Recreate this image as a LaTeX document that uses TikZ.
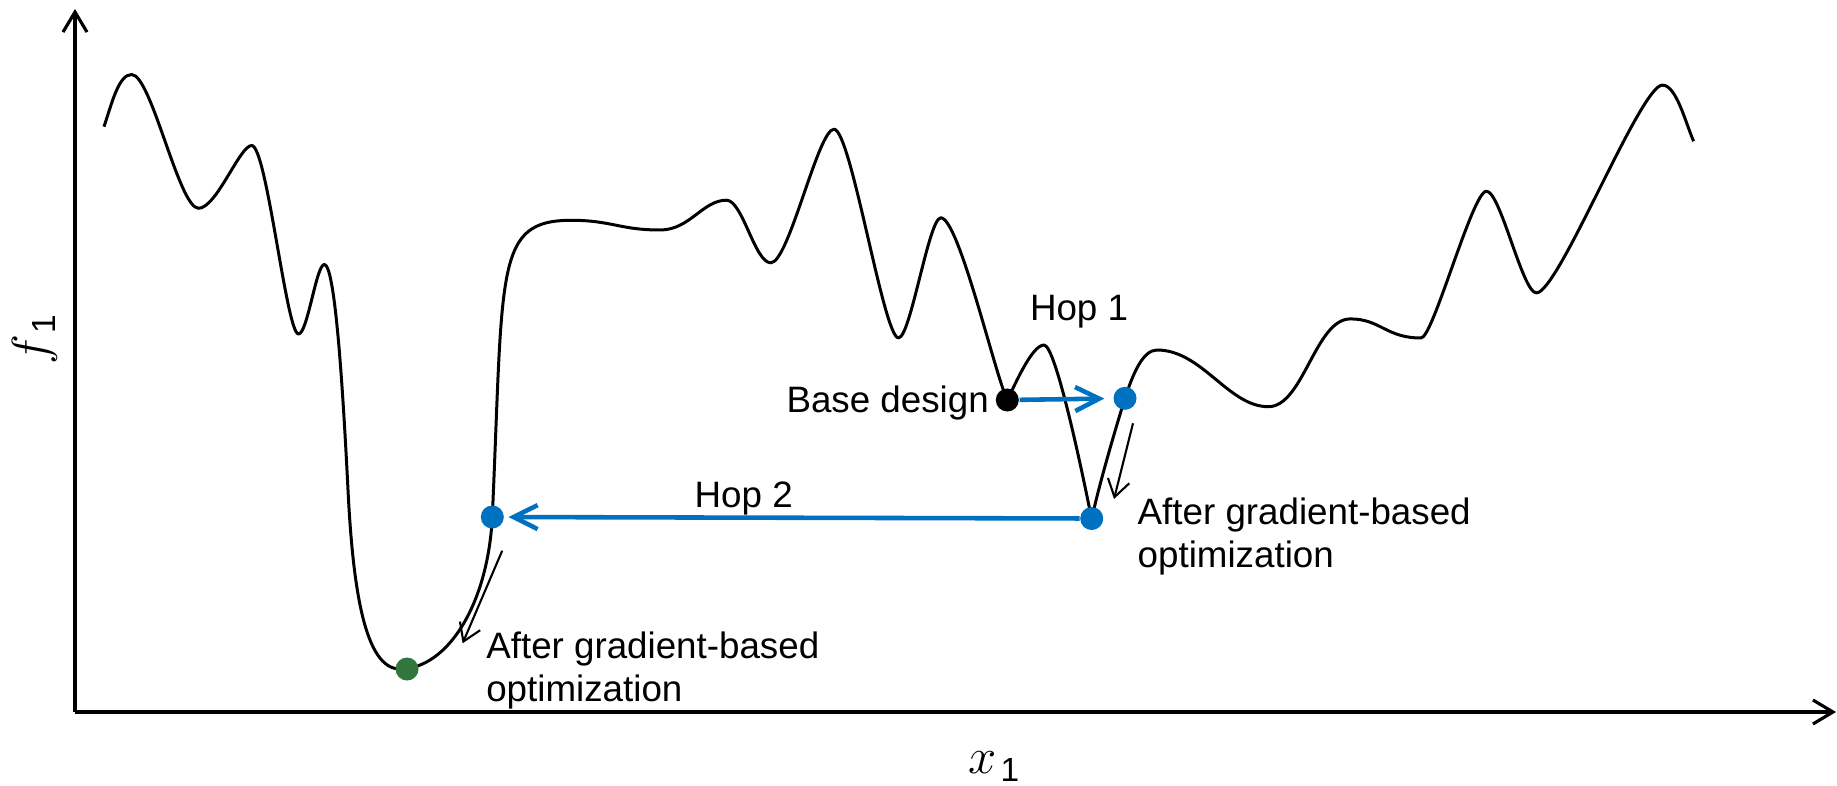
\documentclass[tikz,border=0pt]{standalone}
\usepackage{fontspec}
\setmainfont{Liberation Sans}
\usetikzlibrary{arrows.meta}
\definecolor{hopblue}{HTML}{0070C0}
\definecolor{mingreen}{HTML}{31773D}
\begin{document}
\begin{tikzpicture}[x=0.01cm,y=-0.01cm,
  curve/.style={line width=0.85pt, line join=round},
  axis/.style={line width=0.9pt, -{Straight Barb[length=2mm,width=2.4mm]}},
  hoparrow/.style={hopblue, line width=1.3pt, -{Straight Barb[length=2.4mm,width=2.4mm]}},
  gradarrow/.style={line width=0.6pt, -{Straight Barb[length=1.7mm,width=2.2mm]}},
  dot/.style={circle, inner sep=0pt, minimum size=0.23cm},
  lbl/.style={font=\fontsize{10.45}{12.1}\selectfont, inner sep=0pt},
  axlbl/.style={inner sep=0pt, font=\fontsize{13.5}{14}\selectfont},
]
\useasboundingbox (0,0) rectangle (1837,785);

% axes
\coordinate (O) at (75,712);
\coordinate (ytop) at (75,9);
\coordinate (xend) at (1836,712);
\draw[axis] (O) -- (ytop);
\draw[axis] (O) -- (xend);

\node[axlbl, rotate=90] (flab) at (35,340)
  {$f$\kern0.3pt{\fontsize{9.5}{11}\selectfont\raisebox{-2.3pt}{1}}};
\node[axlbl] (xlab) at (994,767)
  {$x$\kern1pt{\fontsize{9.5}{11}\selectfont\raisebox{-2.3pt}{1}}};

% landscape curve
\draw[curve] (104,126.7)
 .. controls +(8,-24) and +(-13,0) .. (131.7,74.5)
 .. controls +(19.5,0) and +(-19.5,0) .. (198.5,208.3)
 .. controls +(18,0) and +(-12,0) .. (251.7,145.5)
 .. controls +(15,0) and +(-12,0) .. (298.5,334)
 .. controls +(9,0) and +(-8,0) .. (324.3,264.5)
 .. controls +(10,0) and +(-6,-120) .. (348,490)
 .. controls +(5,100) and +(-35,0) .. (400,669)
 .. controls +(47,0) and +(-4.3,88.4) .. (492.3,516.6)
 .. controls +(11.2,-248.9) and +(-77,0) .. (571.4,220.3)
 .. controls +(40,0) and +(-40,0) .. (660,230)
 .. controls +(30,0) and +(-24,0) .. (726.5,200.2)
 .. controls +(16,0) and +(-16,0) .. (770.8,262.8)
 .. controls +(18,0) and +(-16,0) .. (834,129.2)
 .. controls +(17,0) and +(-15,0) .. (898.5,337.9)
 .. controls +(12,0) and +(-12,0) .. (940.8,217.8)
 .. controls +(18,0) and +(-12,-24) .. (1007.3,400)
 .. controls +(8,-16) and +(-12,0) .. (1044,345)
 .. controls +(12,0) and +(-8,-40) .. (1091.7,519.3)
 .. controls +(6,-30) and +(-8,25) .. (1125,398.3)
 .. controls +(8,-25) and +(-14,0) .. (1157,350)
 .. controls +(45,0) and +(-40,0) .. (1268.3,406.7)
 .. controls +(35,0) and +(-35,0) .. (1350.3,318.9)
 .. controls +(30,0) and +(-35,0) .. (1421,338)
 .. controls +(12,0) and +(-14,0) .. (1486.4,191.2)
 .. controls +(14,0) and +(-14,0) .. (1536.4,292.9)
 .. controls +(22,0) and +(-22,0) .. (1662.4,85.1)
 .. controls +(14,0) and +(-8,-18) .. (1693.6,141.2);

% points
\node[dot, fill=black] (base) at (1007.3,400) {};
\node[dot, fill=hopblue] (b1) at (1125,398.3) {};
\node[dot, fill=hopblue] (v1) at (1091.7,518.5) {};
\node[dot, fill=hopblue] (b2) at (492.3,517) {};
\node[dot, fill=mingreen] (gmin) at (407,669) {};

% hops
\draw[hoparrow, shorten >=0.85mm] (base) -- (b1);
\draw[hoparrow, shorten >=0.4mm] (v1) -- (b2);

% gradient steps
\coordinate (g1a) at (502.2,550.7);
\coordinate (g1b) at (462.6,643.3);
\coordinate (g2a) at (1133,423.3);
\coordinate (g2b) at (1114,499);
\draw[gradarrow] (g1a) -- (g1b);
\draw[gradarrow] (g2a) -- (g2b);

% labels
\node[lbl, anchor=base east] (baselbl) at (989.5,412) {Base design};
\node[lbl, anchor=base west] (hop1) at (1029.3,320) {Hop 1};
\node[lbl, anchor=base west] (hop2) at (694,507) {Hop 2};
\node[lbl, anchor=north west, align=left] (opt1) at (485.6,631.5) {After gradient-based\\optimization};
\node[lbl, anchor=north west, align=left] (opt2) at (1137,497.5) {After gradient-based\\optimization};
\end{tikzpicture}
\end{document}
